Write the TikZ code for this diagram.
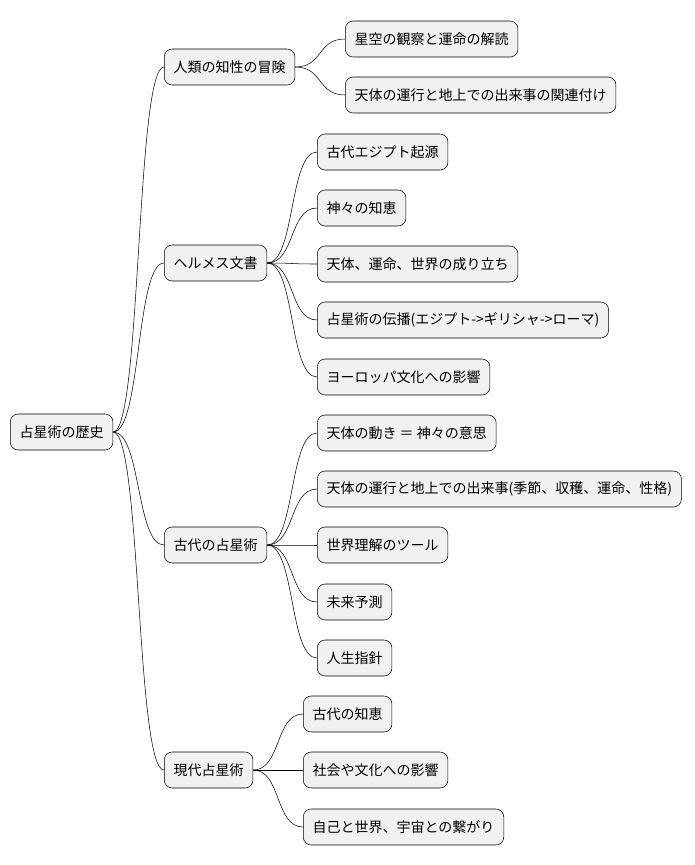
\documentclass[tikz,border=0pt]{standalone}
\usepackage{fontspec}
\setmainfont{Noto Sans CJK JP}
\usepackage{xcolor}
\usetikzlibrary{positioning}
\definecolor{boxfill}{HTML}{F1F1F1}

\begin{document}
\begin{tikzpicture}[
    x=0.75pt, y=-0.75pt,
    box/.style={rectangle, draw, rounded corners=6pt, fill=boxfill, anchor=west,
      minimum height=27pt, inner xsep=7pt, font=\fontsize{10.5}{12}\selectfont},
    link/.style={draw, thin}
]
\useasboundingbox (0,0) rectangle (695,865);

\node[box] (root) at (10,432) {占星術の歴史};

\node[box] (adventure) at (164,67) {人類の知性の冒険};
\node[box] (hermes) at (164,263) {ヘルメス文書};
\node[box] (ancient) at (164,545) {古代の占星術};
\node[box] (modern) at (164,770) {現代占星術};

\node[box] (stars) at (345,39) {星空の観察と運命の解読};
\node[box] (relate) at (345,95) {天体の運行と地上での出来事の関連付け};

\node[box] (egypt) at (317,152) {古代エジプト起源};
\node[box] (godwis) at (317,208) {神々の知恵};
\node[box] (origin) at (317,264) {天体、運命、世界の成り立ち};
\node[box] (spread) at (317,320) {占星術の伝播(エジプト->ギリシャ->ローマ)};
\node[box] (europe) at (317,377) {ヨーロッパ文化への影響};

\node[box] (godwill) at (317,433) {天体の動き ＝ 神々の意思};
\node[box] (season) at (317,489) {天体の運行と地上での出来事(季節、収穫、運命、性格)};
\node[box] (tool) at (317,545) {世界理解のツール};
\node[box] (future) at (317,602) {未来予測};
\node[box] (guide) at (317,658) {人生指針};

\node[box] (oldwis) at (303,714) {古代の知恵};
\node[box] (society) at (303,770) {社会や文化への影響};
\node[box] (self) at (303,827) {自己と世界、宇宙との繋がり};

\foreach \p/\c in {root/adventure, root/hermes, root/ancient, root/modern,
    adventure/stars, adventure/relate,
    hermes/egypt, hermes/godwis, hermes/origin, hermes/spread, hermes/europe,
    ancient/godwill, ancient/season, ancient/tool, ancient/future, ancient/guide,
    modern/oldwis, modern/society, modern/self}
  \draw[link] (\p.east) .. controls +(28,0) and +(-28,0) .. (\c.west);

\end{tikzpicture}
\end{document}
